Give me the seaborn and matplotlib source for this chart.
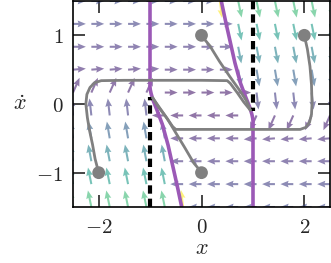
import numpy as np
import matplotlib
matplotlib.use("Agg")
import matplotlib.pyplot as plt
from matplotlib.colors import Normalize
import seaborn as sns

# ---------------- data ----------------
# arrow grid
grid_x = np.linspace(-2.5, 2.5, 15)
grid_v = np.linspace(-1.5, 1.5, 10)

# upper switching curve (x, xdot); lower curve is its point mirror
curve_up_v = [1.5, 1.2, 0.9, 0.6, 0.3, 0.1, -0.05, -0.15, -0.22]
curve_up_x = [0.385, 0.47, 0.56, 0.65, 0.76, 0.86, 0.94, 0.98, 1.0]
curve_lo_v = [-v for v in curve_up_v]
curve_lo_x = [-x for x in curve_up_x]

# strong / weak accelerations versus |xdot| row
speed_levels = [0.167, 0.5, 0.833, 1.167, 1.5]
strong_acc = [1.1, 2.2, 3.3, 4.3, 5.4]
weak_acc = [0.28, 0.03, 0.0, 0.0, 0.0]

# vertical purple segments (x, v_from, v_to)
purple_vert_x = [-1.0, 1.0]
purple_vert_v0 = [1.5, -1.5]
purple_vert_v1 = [0.22, -0.22]

# dashed black segments
dash_x = [-1.0, 1.0]
dash_v0 = [-1.5, 1.5]
dash_v1 = [0.1, -0.1]

# trajectories
traj1_x = [-2.0, -2.07, -2.12, -2.18, -2.22, -2.25, -2.23, -2.17, -2.08, -1.95, -1.5, 0.0, 0.5, 0.56, 0.7, 0.82, 0.95]
traj1_v = [-1.0, -0.8, -0.59, -0.38, -0.2, 0.0, 0.14, 0.24, 0.31, 0.34, 0.345, 0.345, 0.34, 0.3, 0.16, 0.03, -0.09]
traj2_x = [0.0, 0.06, 0.16, 0.35, 0.55, 0.75, 0.88, 0.95]
traj2_v = [1.0, 0.94, 0.85, 0.62, 0.4, 0.19, 0.04, -0.09]
traj3_x = [2.0, 2.06, 2.11, 2.14, 2.15, 2.14, 2.1, 2.03, 1.92, 1.5, 0.0, -0.5, -0.56, -0.7, -0.83, -0.95]
traj3_v = [1.0, 0.8, 0.55, 0.28, 0.0, -0.15, -0.27, -0.34, -0.37, -0.37, -0.37, -0.37, -0.33, -0.18, -0.05, 0.09]
traj4_x = [0.0, -0.06, -0.15, -0.33, -0.5, -0.66, -0.82, -0.95]
traj4_v = [-1.0, -0.94, -0.86, -0.63, -0.42, -0.22, -0.05, 0.09]

start_x = [-2.0, 0.0, 2.0, 0.0]
start_v = [-1.0, 1.0, 1.0, -1.0]

xticks = [-2, 0, 2]
yticks = [-1, 0, 1]

# ---------------- build the field ----------------
def accel(x, v):
    if v < 0:
        return -accel(-x, -v)
    s = abs(v)
    strong = np.interp(s, speed_levels, strong_acc)
    weak = np.interp(s, speed_levels, weak_acc)
    cu = np.interp(v, curve_up_v[::-1], curve_up_x[::-1])
    if x >= cu:
        return -strong
    if cu - x < 0.04:
        return -strong * 1.65
    if x < -1:
        return weak
    return 0.0

XX, VV = np.meshgrid(grid_x, grid_v)
A = np.vectorize(accel)(XX, VV)
mag = np.hypot(VV, A)
L = 0.25
U = L * VV / mag
W = L * A / mag

# ---------------- plot ----------------
sns.set_style("ticks")
plt.rcParams["mathtext.fontset"] = "cm"
plt.rcParams["font.family"] = ["DejaVu Sans"]

fig = plt.figure(figsize=(3.31, 2.63), dpi=100)
ax = fig.add_axes([73 / 331, 56 / 263, 257 / 331, 206 / 263])

ax.quiver(XX, VV, U, W, mag, cmap="viridis", norm=Normalize(-0.5, 8.5), alpha=0.6,
          angles="xy", scale_units="xy", scale=1, width=0.008,
          headwidth=3.3, headlength=4, headaxislength=3.6, zorder=1)

purple = "#9b59b6"
for xv, a0, a1 in zip(purple_vert_x, purple_vert_v0, purple_vert_v1):
    sns.lineplot(x=[xv, xv], y=[a0, a1], color=purple, lw=2.6, ax=ax,
                 sort=False, estimator=None, zorder=2)
sns.lineplot(x=curve_up_x, y=curve_up_v, color=purple, lw=2.6, ax=ax,
             sort=False, estimator=None, zorder=2)
sns.lineplot(x=curve_lo_x, y=curve_lo_v, color=purple, lw=2.6, ax=ax,
             sort=False, estimator=None, zorder=2)

for xv, a0, a1 in zip(dash_x, dash_v0, dash_v1):
    ax.plot([xv, xv], [a0, a1], color="black", lw=3, ls=(0, (2.0, 1.2)), zorder=3)

for tx, tv in [(traj1_x, traj1_v), (traj2_x, traj2_v), (traj3_x, traj3_v), (traj4_x, traj4_v)]:
    sns.lineplot(x=tx, y=tv, color="gray", lw=2, ax=ax, sort=False,
                 estimator=None, zorder=4)
sns.scatterplot(x=start_x, y=start_v, color="gray", s=85, edgecolor="none",
                ax=ax, zorder=5, legend=False)

ax.set_xlim(-2.5, 2.5)
ax.set_ylim(-1.5, 1.5)
ax.set_xticks(xticks)
ax.set_yticks(yticks)
ax.set_xticklabels([f"${t}$" for t in xticks], fontsize=15)
ax.set_yticklabels([f"${t}$" for t in yticks], fontsize=15)
ax.tick_params(direction="in", length=8.5, width=1.2, top=True, right=True, pad=7)
for sp in ax.spines.values():
    sp.set_linewidth(1.2)
    sp.set_color("black")
ax.set_xlabel("$x$", fontsize=16, labelpad=1)
ax.set_ylabel(r"$\dot{x}$", fontsize=16, rotation=0, labelpad=12, va="center")

fig.savefig("out.png", dpi=100)
